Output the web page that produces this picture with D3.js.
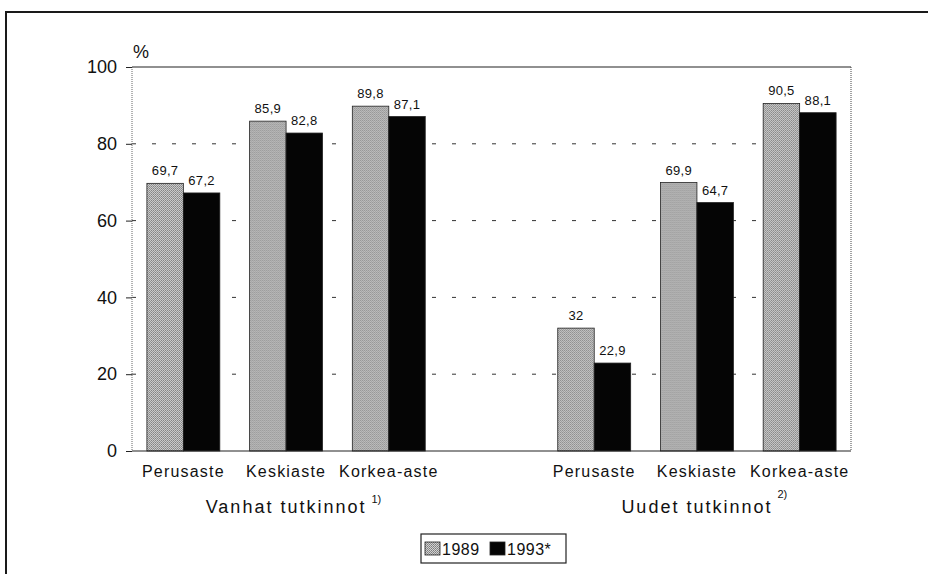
<!DOCTYPE html>
<meta charset="utf-8">
<style>
body { margin: 0; background: #fff; }
text { font-family: "Liberation Sans", Arial, sans-serif; fill: #111; }
.grid line { stroke: #333; stroke-width: 1px; stroke-dasharray: 4 16; }
</style>
<body>
<script src="https://cdnjs.cloudflare.com/ajax/libs/d3/7.8.5/d3.min.js"></script>
<script>
// data
var groups = ["Vanhat tutkinnot", "Uudet tutkinnot"];
var groupNotes = ["1)", "2)"];
var levels = ["Perusaste", "Keskiaste", "Korkea-aste"];
var series = ["1989", "1993*"];
var values1989 = [69.7, 85.9, 89.8, 32, 69.9, 90.5];
var values1993 = [67.2, 82.8, 87.1, 22.9, 64.7, 88.1];
var yTicks = [0, 20, 40, 60, 80, 100];

var width = 928, height = 574;
var plotL = 132, plotR = 851, plotT = 67, plotB = 451;

var svg = d3.select("body").append("svg")
    .attr("width", width)
    .attr("height", height);

// stipple for 1989 bars
var defs = svg.append("defs");
var pat = defs.append("pattern")
    .attr("id", "stipple")
    .attr("width", 2).attr("height", 2)
    .attr("patternUnits", "userSpaceOnUse");
pat.append("rect").attr("width", 2).attr("height", 2).attr("fill", "#d2d2d2");
pat.append("rect").attr("width", 1).attr("height", 1).attr("fill", "#7c7c7c");
pat.append("rect").attr("x", 1).attr("y", 1).attr("width", 1).attr("height", 1).attr("fill", "#8e8e8e");

// outer frame
svg.append("path")
    .attr("d", "M6," + height + "V12H" + width)
    .attr("fill", "none")
    .attr("stroke", "#1a1a1a")
    .attr("stroke-width", 2);

// slots: 3 levels, an empty gap, 3 levels
var slots = [];
groups.forEach(function(g, gi) {
  if (gi > 0) slots.push("gap");
  levels.forEach(function(l) { slots.push(gi + "|" + l); });
});

var rows = [];
var k = 0;
groups.forEach(function(g, gi) {
  levels.forEach(function(l) {
    rows.push({slot: gi + "|" + l, level: l, v: [values1989[k], values1993[k]]});
    k++;
  });
});

var x = d3.scaleBand().domain(slots).range([plotL, plotR])
    .paddingInner(0.29).paddingOuter(0.145);
var xs = d3.scaleBand().domain(series).range([0, x.bandwidth()]);
var y = d3.scaleLinear().domain([0, 100]).range([plotB, plotT]);

// dashed gridlines
svg.append("g").attr("class", "grid")
  .selectAll("line")
  .data(yTicks.filter(function(t) { return t > 0 && t < 100; }))
  .enter().append("line")
    .attr("x1", plotL).attr("x2", plotR)
    .attr("y1", function(d) { return y(d); })
    .attr("y2", function(d) { return y(d); });

// plot frame
svg.append("line").attr("x1", plotL).attr("x2", plotR).attr("y1", plotT).attr("y2", plotT)
    .attr("stroke", "#222").attr("stroke-width", 1.2);
svg.append("line").attr("x1", plotR).attr("x2", plotR).attr("y1", plotT).attr("y2", plotB)
    .attr("stroke", "#444").attr("stroke-width", 1).attr("stroke-dasharray", "1 1");
svg.append("line").attr("x1", plotL).attr("x2", plotL).attr("y1", plotT).attr("y2", plotB)
    .attr("stroke", "#666").attr("stroke-width", 1).attr("stroke-dasharray", "1 1");

// y axis
var yAxis = svg.append("g")
    .attr("transform", "translate(" + plotL + ",0)")
    .call(d3.axisLeft(y).tickValues(yTicks).tickSize(6).tickPadding(9));
yAxis.select(".domain").remove();
yAxis.selectAll(".tick line").attr("stroke", "#222");
yAxis.selectAll(".tick text")
    .attr("font-size", 18)
    .attr("font-family", "Liberation Sans, Arial, sans-serif")
    .attr("fill", "#111");

svg.append("text")
    .attr("x", 133).attr("y", 58)
    .attr("font-size", 18)
    .text("%");

// bars
var bars = svg.selectAll(".cat")
    .data(rows)
  .enter().append("g")
    .attr("class", "cat")
    .attr("transform", function(d) { return "translate(" + x(d.slot) + ",0)"; });

bars.selectAll("rect")
    .data(function(d) { return d.v.map(function(v, i) { return {s: series[i], v: v}; }); })
  .enter().append("rect")
    .attr("x", function(d) { return xs(d.s); })
    .attr("y", function(d) { return y(d.v); })
    .attr("width", xs.bandwidth())
    .attr("height", function(d) { return y(0) - y(d.v); })
    .attr("fill", function(d) { return d.s == series[0] ? "url(#stipple)" : "#050505"; })
    .attr("stroke", "#222")
    .attr("stroke-width", 0.8);

bars.selectAll(".val")
    .data(function(d) { return d.v.map(function(v, i) { return {s: series[i], v: v}; }); })
  .enter().append("text")
    .attr("class", "val")
    .attr("x", function(d) { return xs(d.s) + xs.bandwidth() / 2; })
    .attr("y", function(d) { return y(d.v) - 8; })
    .attr("text-anchor", "middle")
    .attr("font-size", 13)
    .attr("letter-spacing", 0.3)
    .text(function(d) { return String(d.v).replace(".", ","); });

bars.append("text")
    .attr("x", x.bandwidth() / 2)
    .attr("y", 477)
    .attr("text-anchor", "middle")
    .attr("font-size", 16)
    .attr("letter-spacing", 1.2)
    .text(function(d) { return d.level; });

// x axis line
svg.append("line").attr("x1", plotL).attr("x2", plotR).attr("y1", plotB).attr("y2", plotB)
    .attr("stroke", "#222").attr("stroke-width", 1.2);

// group labels with note marks
groups.forEach(function(g, gi) {
  var mid = x(gi + "|" + levels[1]) + x.bandwidth() / 2;
  var t = svg.append("text")
      .attr("x", mid).attr("y", 513)
      .attr("text-anchor", "middle")
      .attr("font-size", 18)
      .attr("letter-spacing", 2)
      .text(g);
  var w = t.node().getComputedTextLength();
  svg.append("text")
      .attr("x", mid + w / 2 + 5).attr("y", gi == 0 ? 503 : 498)
      .attr("font-size", 11)
      .text(groupNotes[gi]);
});

// legend
var lg = svg.append("g").attr("transform", "translate(421,534)");
lg.append("rect").attr("width", 145).attr("height", 29)
    .attr("fill", "#fff").attr("stroke", "#222").attr("stroke-width", 1.2);
var lx = [4, 69];
series.forEach(function(s, i) {
  lg.append("rect")
      .attr("x", lx[i]).attr("y", 8).attr("width", 15).attr("height", 13)
      .attr("fill", i == 0 ? "url(#stipple)" : "#050505")
      .attr("stroke", "#222").attr("stroke-width", 0.8);
  lg.append("text")
      .attr("x", lx[i] + 17).attr("y", 21)
      .attr("font-size", 16)
      .attr("letter-spacing", 0.5)
      .text(s);
});
</script>
</body>
